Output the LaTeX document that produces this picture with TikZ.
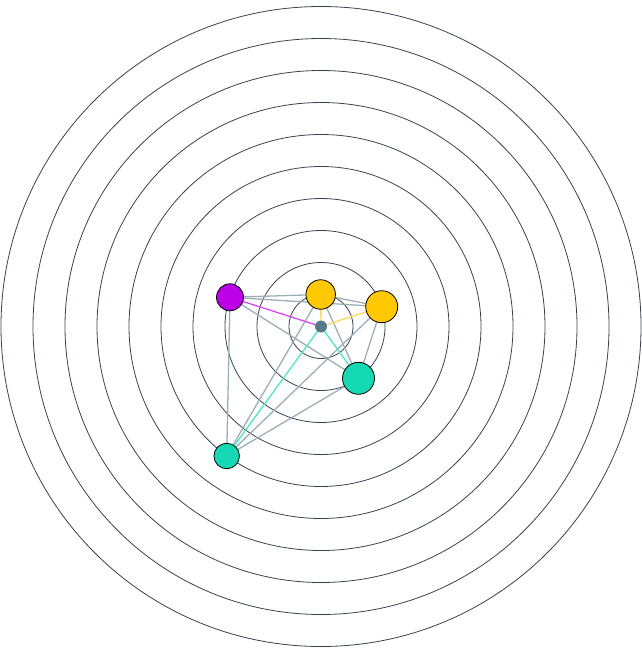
\documentclass[tikz,border=0pt]{standalone}
\begin{document}
\begin{tikzpicture}[x=1pt,y=-1pt,
  ring/.style={draw=ringc,line width=0.8pt},
  link/.style={draw=linkc,line width=1.3pt},
  vtx/.style={circle,draw=black,line width=0.8pt,inner sep=0pt},
  hub/.style={circle,fill=hubc,inner sep=0pt,minimum size=12pt},
]
\definecolor{ringc}{HTML}{3A4150}
\definecolor{linkc}{HTML}{9AAFB8}
\definecolor{purp}{HTML}{BB00E8}
\definecolor{yel}{HTML}{FFC800}
\definecolor{teal}{HTML}{14D9B3}
\definecolor{hubc}{HTML}{557A8A}
\definecolor{purpl}{HTML}{D84AF0}
\definecolor{yell}{HTML}{FFD55A}
\definecolor{teall}{HTML}{4DE6C6}
\useasboundingbox (0,0) rectangle (642,648);
\coordinate (c) at (321,326.5);
\foreach \r in {32,64,...,320} {\draw[ring] (c) circle[radius=\r];}
\path (230,297.3) coordinate (pp);
\path (320.7,294.5) coordinate (y1);
\path (381.7,306.7) coordinate (y2);
\path (358.5,378.3) coordinate (t1);
\path (226.7,456) coordinate (t2);
\foreach \a/\b in {pp/y1,pp/y2,pp/t1,pp/t2,y1/y2,y1/t1,y1/t2,y2/t1,y2/t2,t1/t2}
  {\draw[link] (\a) -- (\b);}
\draw[purpl,line width=1.3pt] (c) -- (pp);
\draw[yell,line width=1.3pt] (c) -- (y1);
\draw[yell,line width=1.3pt] (c) -- (y2);
\draw[teall,line width=1.3pt] (c) -- (t1);
\draw[teall,line width=1.3pt] (c) -- (t2);
\node[hub] (h) at (c) {};
\node[vtx,fill=purp,minimum size=27pt] (P) at (pp) {};
\node[vtx,fill=yel,minimum size=29.5pt] (Y1) at (y1) {};
\node[vtx,fill=yel,minimum size=32pt] (Y2) at (y2) {};
\node[vtx,fill=teal,minimum size=32pt] (T1) at (t1) {};
\node[vtx,fill=teal,minimum size=25.5pt] (T2) at (t2) {};
\end{tikzpicture}
\end{document}
